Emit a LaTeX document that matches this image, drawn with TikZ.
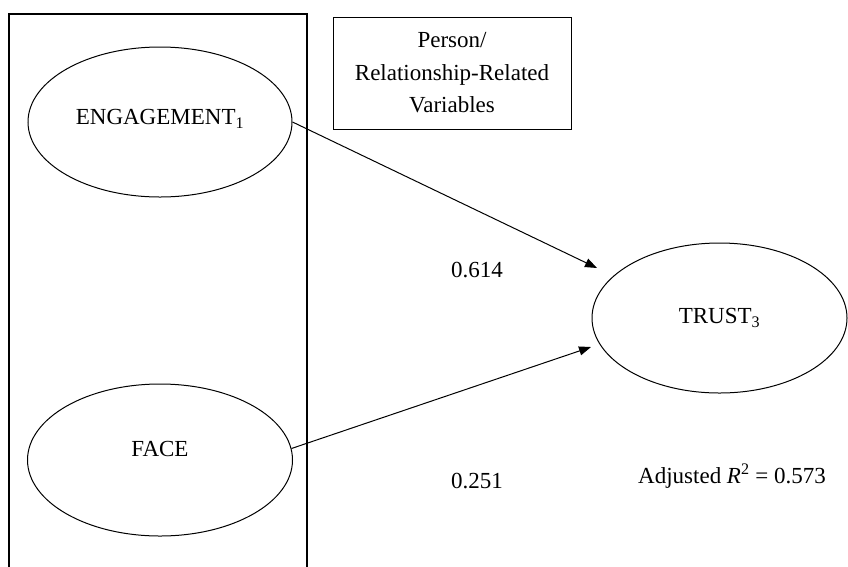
\documentclass[tikz,border=0pt]{standalone}
\usepackage{fontspec}
\setmainfont{Liberation Serif}
\usetikzlibrary{arrows.meta,shapes.geometric}

\begin{document}
\begin{tikzpicture}[x=1pt, y=-1pt,
		latent/.style={draw, ellipse, line width=1pt, inner sep=0pt, font=\fontsize{23}{27}\selectfont},
		path/.style={-{Triangle[length=12pt,width=9pt]}, line width=1pt},
		coef/.style={font=\fontsize{23}{27}\selectfont}]
			\useasboundingbox (0,0) rectangle (848,566);
			\clip (0,0) rectangle (848,566);

			% Predictor block
			\draw[line width=1.1pt] (9,14) rectangle (307,600);
			\node[draw, line width=1pt, minimum width=238pt, minimum height=112pt, align=center,
				font=\fontsize{23}{32.5}\selectfont] (vars) at (452,73) {Person/\\Relationship-Related\\Variables};

			% Latent variables
			\node[latent, minimum width=264pt, minimum height=150pt, text depth=10pt] (eng) at (160,122) {ENGAGEMENT\textsubscript{1}};
			\node[latent, minimum width=265pt, minimum height=152pt, text depth=22pt] (face) at (160,460) {FACE};
			\node[latent, minimum width=255pt, minimum height=150pt] (trust) at (719.5,318) {TRUST\textsubscript{3}};

			% Paths
			\coordinate (tip1) at (597,268);
			\coordinate (tip2) at (591,347);
			\draw[path] (eng.east) -- (tip1);
			\draw[path] (face.5) -- (tip2);

			% Coefficients
			\node[coef] (c1) at (477,270) {0.614};
			\node[coef] (c2) at (477,481) {0.251};
			\node[coef] (r2) at (732,476) {Adjusted \textit{R}\textsuperscript{2} = 0.573};
		\end{tikzpicture}
\end{document}
